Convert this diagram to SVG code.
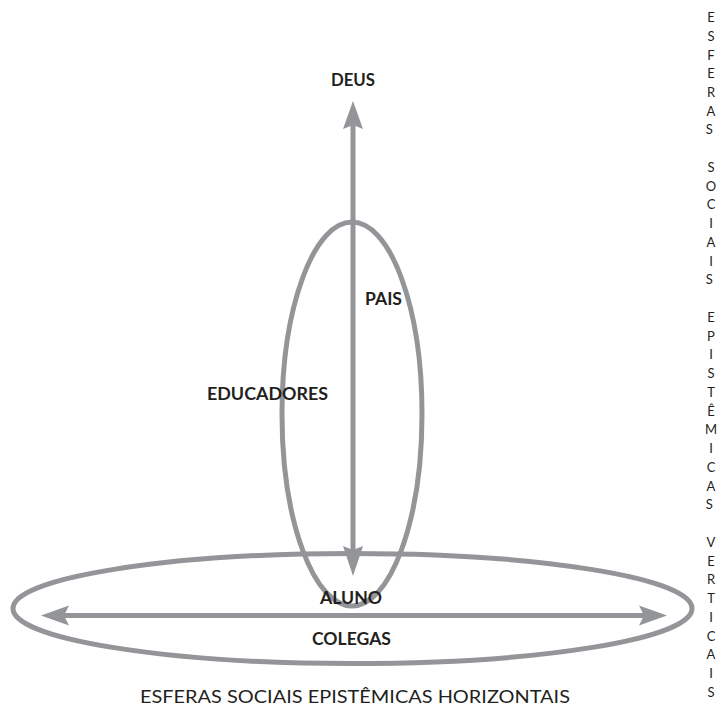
<svg xmlns="http://www.w3.org/2000/svg" width="722" height="706" viewBox="0 0 722 706">
<style>
.sphere{fill:none;stroke:#939598;stroke-width:5}
.shaft{stroke:#939598;stroke-width:5;fill:none}
.head{fill:#939598;stroke:none}
.lbl{font-family:Lato,"Liberation Sans",sans-serif;font-weight:bold;font-size:16.5px;fill:#231f20}
.cap{font-family:Lato,"Liberation Sans",sans-serif;font-size:17px;fill:#231f20}
.vert{font-family:Lato,"Liberation Sans",sans-serif;font-size:13px;fill:#231f20;text-anchor:middle}
</style>
<rect width="722" height="706" fill="#ffffff"/>
<g id="esfera-vertical"><ellipse class="sphere" cx="352" cy="414" rx="70" ry="192"/></g>
<g id="esfera-horizontal"><ellipse class="sphere" cx="352.5" cy="608.5" rx="339.5" ry="55"/></g>
<g id="connectors">
  <line class="shaft" x1="353" y1="122" x2="353" y2="555"/>
  <path class="head" d="M353,101 L363,129 L353,125 L343,129 Z"/>
  <path class="head" d="M353,576 L363,546 L353,550 L343,546 Z"/>
  <line class="shaft" x1="62" y1="615.5" x2="646" y2="615.5"/>
  <path class="head" d="M41,615.5 L69,605.5 L64,615.5 L69,625.5 Z"/>
  <path class="head" d="M667,615.5 L639,605.5 L644,615.5 L639,625.5 Z"/>
</g>
<g id="deus"><text class="lbl" x="331" y="86" textLength="44" lengthAdjust="spacingAndGlyphs">DEUS</text></g>
<g id="pais"><text class="lbl" x="365" y="305" textLength="37" lengthAdjust="spacingAndGlyphs">PAIS</text></g>
<g id="educadores"><text class="lbl" x="207" y="400" textLength="121" lengthAdjust="spacingAndGlyphs">EDUCADORES</text></g>
<g id="aluno"><text class="lbl" x="320" y="604" textLength="62" lengthAdjust="spacingAndGlyphs">ALUNO</text></g>
<g id="colegas"><text class="lbl" x="312" y="645" textLength="79" lengthAdjust="spacingAndGlyphs">COLEGAS</text></g>
<g id="horizontal-title"><text class="cap" x="140" y="703" textLength="430" lengthAdjust="spacingAndGlyphs">ESFERAS SOCIAIS EPISTÊMICAS HORIZONTAIS</text></g>
<g id="vertical-title">
<text class="vert" x="711">
<tspan x="711" y="22">E</tspan><tspan x="711" y="40.7">S</tspan><tspan x="711" y="59.5">F</tspan><tspan x="711" y="78.2">E</tspan><tspan x="711" y="97">R</tspan><tspan x="711" y="115.7">A</tspan><tspan x="711" y="134.4">S</tspan>
<tspan x="711" y="171.9">S</tspan><tspan x="711" y="190.7">O</tspan><tspan x="711" y="209.4">C</tspan><tspan x="711" y="228.1">I</tspan><tspan x="711" y="246.9">A</tspan><tspan x="711" y="265.6">I</tspan><tspan x="711" y="284.4">S</tspan>
<tspan x="711" y="321.9">E</tspan><tspan x="711" y="340.6">P</tspan><tspan x="711" y="359.3">I</tspan><tspan x="711" y="378.1">S</tspan><tspan x="711" y="396.8">T</tspan><tspan x="711" y="415.6">Ê</tspan><tspan x="711" y="434.3">M</tspan><tspan x="711" y="453">I</tspan><tspan x="711" y="471.8">C</tspan><tspan x="711" y="490.5">A</tspan><tspan x="711" y="509.3">S</tspan>
<tspan x="711" y="546.8">V</tspan><tspan x="711" y="565.5">E</tspan><tspan x="711" y="584.2">R</tspan><tspan x="711" y="603">T</tspan><tspan x="711" y="621.7">I</tspan><tspan x="711" y="640.5">C</tspan><tspan x="711" y="659.2">A</tspan><tspan x="711" y="678">I</tspan><tspan x="711" y="696.7">S</tspan>
</text>
</g>
</svg>
